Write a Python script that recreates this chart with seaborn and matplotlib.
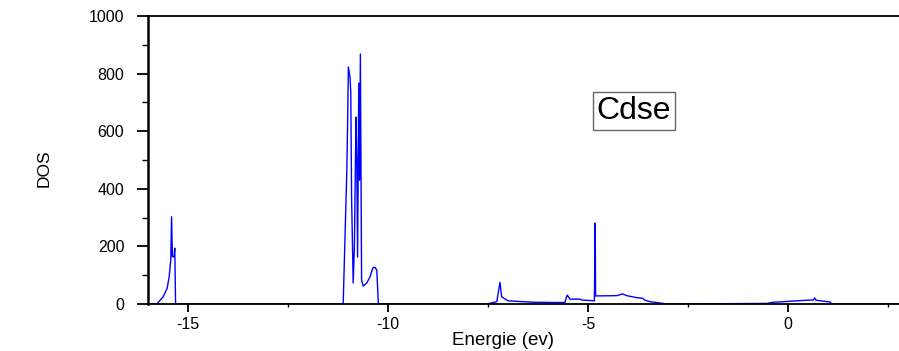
import matplotlib
matplotlib.use("Agg")
import matplotlib.pyplot as plt
import seaborn as sns
import pandas as pd
from matplotlib.ticker import MultipleLocator

# Energy (eV) and DOS values
energy = [-16.0, -15.78, -15.62, -15.52, -15.47, -15.43, -15.41, -15.39, -15.35, -15.33, -15.31,
          -11.12, -11.03, -11.01, -10.99, -10.95, -10.93, -10.91, -10.87, -10.84, -10.82, -10.80,
          -10.78, -10.76, -10.73, -10.71, -10.69, -10.66, -10.62, -10.53, -10.45, -10.38, -10.33,
          -10.28, -10.24,
          -7.53, -7.28, -7.20, -7.16, -7.00, -6.37, -5.58, -5.52, -5.45, -5.20, -5.16, -4.84,
          -4.82, -4.81, -4.28, -4.14, -4.03, -3.78, -3.63, -3.59, -3.45, -3.12, -3.07,
          -0.53, -0.37, -0.12, 0.22, 0.47, 0.63, 0.67, 0.70, 1.05, 1.09, 2.8]
dos = [0, 0, 25, 55, 95, 153, 303, 164, 164, 194, 0,
       0, 458, 621, 823, 788, 736, 372, 73, 198, 420, 649,
       500, 163, 767, 430, 868, 83, 62, 73, 94, 125, 128,
       118, 0,
       0, 8, 75, 25, 11, 6, 5, 31, 17, 17, 14, 11,
       281, 28, 29, 35, 29, 22, 20, 14, 8, 2, 0,
       2, 6, 8, 11, 13, 14, 21, 13, 7, 0, 0]

x_ticks = [-15, -10, -5, 0]
x_tick_labels = ["-15", "-10", "-5", "0"]
y_ticks = [0, 200, 400, 600, 800, 1000]

df = pd.DataFrame({"Energie": energy, "DOS": dos})

sns.set_style("ticks")
plt.rcParams['font.family'] = ['Liberation Sans', 'DejaVu Sans']
plt.rcParams.update({'text.color': 'black', 'axes.labelcolor': 'black',
                     'xtick.color': 'black', 'ytick.color': 'black'})

fig = plt.figure(figsize=(8.99, 3.51), dpi=100)
ax = fig.add_axes([0.1646, 0.1339, 0.8354, 0.8205])

sns.lineplot(data=df, x="Energie", y="DOS", color="blue", linewidth=1.0,
             estimator=None, sort=False, ax=ax)

ax.set_xlim(-16, 2.775)
ax.set_ylim(0, 1000)
ax.set_xticks(x_ticks)
ax.set_xticklabels(x_tick_labels)
ax.set_yticks(y_ticks)
ax.xaxis.set_minor_locator(MultipleLocator(2.5))
ax.yaxis.set_minor_locator(MultipleLocator(100))
ax.tick_params(axis='y', which='major', direction='out', length=8, width=1.3,
               labelsize=11.5, pad=9)
ax.tick_params(axis='x', which='major', direction='out', length=6, width=1.3,
               labelsize=11.5, pad=3)
ax.tick_params(axis='y', which='minor', direction='out', length=4, width=1.0)
ax.tick_params(axis='x', which='minor', direction='out', length=2.5, width=1.0)

for s in ['left', 'top', 'bottom']:
    ax.spines[s].set_visible(True)
    ax.spines[s].set_color('black')
ax.spines['left'].set_linewidth(1.8)
ax.spines['top'].set_linewidth(1.3)
ax.spines['bottom'].set_linewidth(1.3)
ax.spines['right'].set_visible(False)

ax.set_xlabel("Energie (ev)", fontsize=13.5)
ax.set_ylabel("DOS", fontsize=12.5)
ax.xaxis.label.set_verticalalignment('center')
ax.xaxis.set_label_coords(0.473, -0.128)
ax.yaxis.set_label_coords(-0.128, 0.472)

ax.text(-3.85, 670, "Cdse", fontsize=23, ha='center', va='center',
        bbox=dict(boxstyle='square,pad=0.12', facecolor='white', edgecolor='#666666', linewidth=1.0))

fig.savefig("out.png", dpi=100)
